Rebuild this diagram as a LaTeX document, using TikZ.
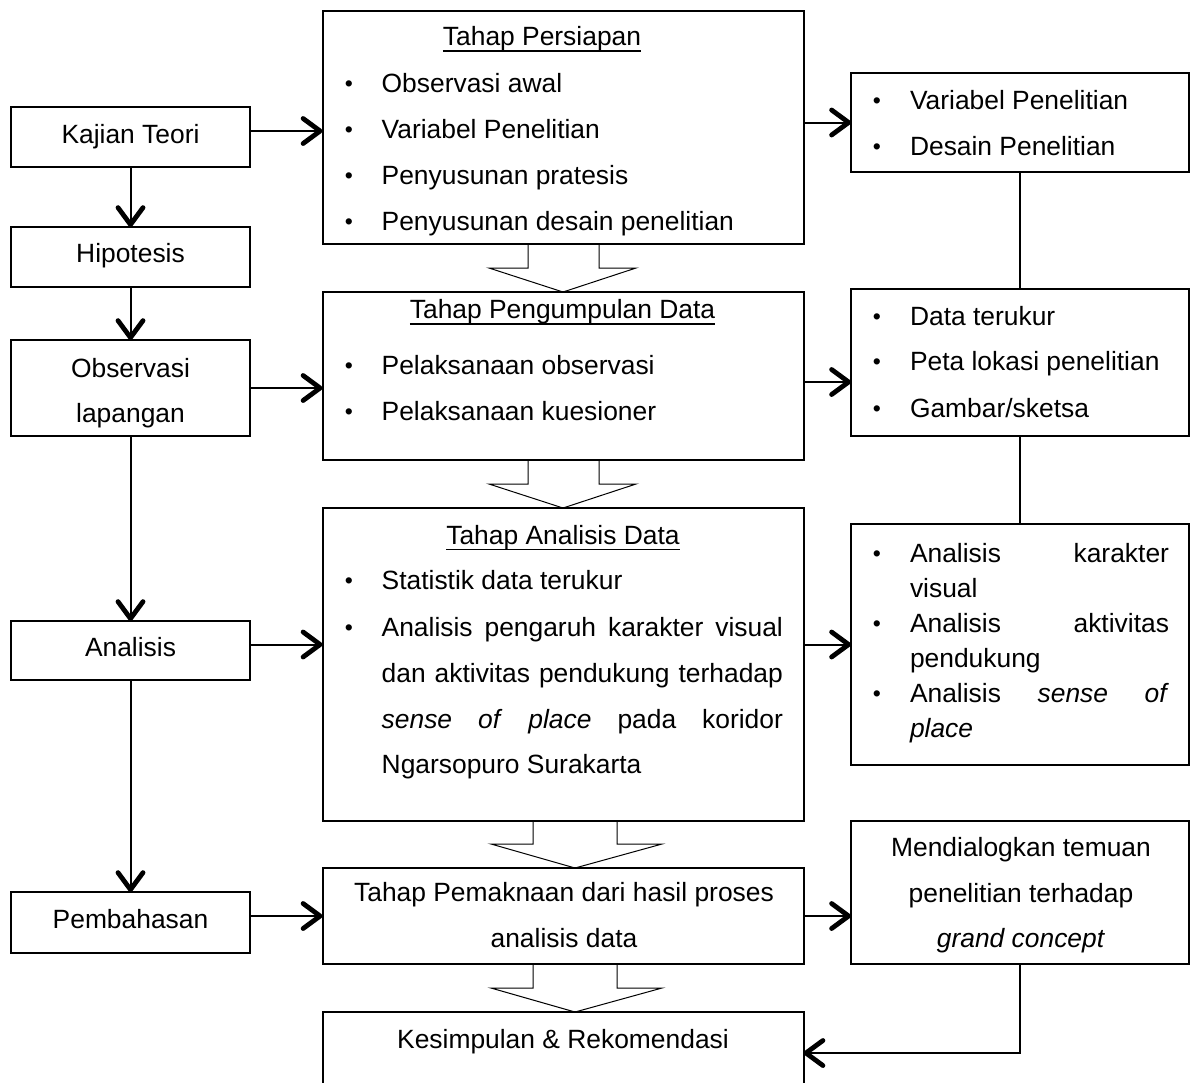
\documentclass[tikz,border=0pt]{standalone}
\usepackage{fontspec}
\setmainfont{Liberation Sans}
\usetikzlibrary{arrows.meta}
\newcommand\smbul{\raisebox{0.3pt}{\fontsize{11.5pt}{11.5pt}\selectfont\textbullet}}
\begin{document}
\begin{tikzpicture}[x=0.5pt,y=-0.5pt,
  box/.style={draw, line width=1pt, rectangle, inner sep=0pt, outer sep=0pt},
  txt/.style={inner sep=0pt, outer sep=0pt, font=\fontsize{13.2pt}{16pt}\selectfont},
  arr/.style={line width=1pt, -{Straight Barb[length=8.5pt,width=12.5pt,line width=2.4pt,round]}},
  conn/.style={line width=1pt},
  blk/.style={line width=0.5pt},
  uline/.style={line width=0.7pt}]
\clip (0,0) rectangle (1192,1082);
% left column
\node[box, minimum width=119.5pt, minimum height=30pt]   (kt) at (130.5,137) {};
\node[box, minimum width=119.5pt, minimum height=30pt]   (l2) at (130.5,257) {};
\node[box, minimum width=119.5pt, minimum height=48pt]   (l3) at (130.5,388) {};
\node[box, minimum width=119.5pt, minimum height=29.5pt] (l4) at (130.5,650.5) {};
\node[box, minimum width=119.5pt, minimum height=30.5pt] (l5) at (130.5,922.5) {};
% middle column
\node[box, minimum width=240.5pt, minimum height=116.5pt] (m1) at (563,127.5) {};
\node[box, minimum width=240.5pt, minimum height=84pt]    (m2) at (563,376) {};
\node[box, minimum width=240.5pt, minimum height=156.5pt] (m3) at (563,664.5) {};
\node[box, minimum width=240.5pt, minimum height=48pt]    (m4) at (563,916) {};
\node[box, minimum width=240.5pt, minimum height=60pt]    (m5) at (563,1072) {};
% right column
\node[box, minimum width=169pt, minimum height=49.5pt]  (r1) at (1020,122.5) {};
\node[box, minimum width=169pt, minimum height=73.5pt]  (r2) at (1020,362.5) {};
\node[box, minimum width=169pt, minimum height=120.5pt] (r3) at (1020,644.5) {};
\node[box, minimum width=169pt, minimum height=71.5pt]  (r4) at (1020,892.5) {};

% left texts
\node[txt, anchor=base] (tkt)  at (130.5,143) {Kajian Teori};
\node[txt, anchor=base] (thip) at (130.5,262) {Hipotesis};
\node[txt, anchor=base] (tob1) at (130.5,377) {Observasi};
\node[txt, anchor=base] (tob2) at (130.5,422) {lapangan};
\node[txt, anchor=base] (tan)  at (130.5,656) {Analisis};
\node[txt, anchor=base] (tpb)  at (130.5,928) {Pembahasan};

% middle texts
\node[txt, anchor=base] (h1) at (542,45) {Tahap Persiapan};
\draw[uline] ([yshift=-2.9pt]h1.base west) -- ([yshift=-2.9pt]h1.base east);
\foreach \yy/\tt [count=\i] in {92/{Observasi awal}, 138/{Variabel Penelitian}, 184/{Penyusunan pratesis}, 230/{Penyusunan desain penelitian}}{
  \node[txt, anchor=base] (m1b\i) at (349,\yy) {\smbul};
  \node[txt, anchor=base west] (m1t\i) at (381.7,\yy) {\tt};
}
\node[txt, anchor=base] (h2) at (562.5,318) {Tahap Pengumpulan Data};
\draw[uline] ([yshift=-3pt]h2.base west) -- ([yshift=-3pt]h2.base east);
\foreach \yy/\tt [count=\i] in {374/{Pelaksanaan observasi}, 420/{Pelaksanaan kuesioner}}{
  \node[txt, anchor=base] (m2b\i) at (349,\yy) {\smbul};
  \node[txt, anchor=base west] (m2t\i) at (381.7,\yy) {\tt};
}
\node[txt, anchor=base] (h3) at (563,544) {Tahap Analisis Data};
\draw[uline] ([yshift=-2.8pt]h3.base west) -- ([yshift=-2.8pt]h3.base east);
\node[txt, anchor=base] (m3b1) at (349,589) {\smbul};
\node[txt, anchor=base west] (m3t1) at (381.7,589) {Statistik data terukur};
\node[txt, anchor=base] (m3b2) at (349,636) {\smbul};
\node[txt, anchor=base west] (m3t2) at (381.7,636) {\makebox[200.6pt][s]{Analisis pengaruh karakter visual}};
\node[txt, anchor=base west] (m3t3) at (381.7,682) {\makebox[200.6pt][s]{dan aktivitas pendukung terhadap}};
\node[txt, anchor=base west] (m3t4) at (381.7,728) {\makebox[200.6pt][s]{\textit{sense} \textit{of} \textit{place} pada koridor}};
\node[txt, anchor=base west] (m3t5) at (381.7,773) {Ngarsopuro Surakarta};
\node[txt, anchor=base] (m4t1) at (564,901) {Tahap Pemaknaan dari hasil proses};
\node[txt, anchor=base] (m4t2) at (564,947) {analisis data};
\node[txt, anchor=base] (m5t1) at (563,1048) {Kesimpulan \& Rekomendasi};

% right texts
\foreach \yy/\tt [count=\i] in {109/{Variabel Penelitian}, 155/{Desain Penelitian}}{
  \node[txt, anchor=base] (r1b\i) at (877,\yy) {\smbul};
  \node[txt, anchor=base west] (r1t\i) at (910,\yy) {\tt};
}
\foreach \yy/\tt [count=\i] in {325/{Data terukur}, 370/{Peta lokasi penelitian}, 417/{Gambar/sketsa}}{
  \node[txt, anchor=base] (r2b\i) at (877,\yy) {\smbul};
  \node[txt, anchor=base west] (r2t\i) at (910,\yy) {\tt};
}
\node[txt, anchor=base] (r3b1) at (877,562) {\smbul};
\node[txt, anchor=base west] (r3t1) at (910,562) {\makebox[129.5pt][s]{Analisis karakter}};
\node[txt, anchor=base west] (r3t2) at (910,597) {visual};
\node[txt, anchor=base] (r3b2) at (877,632) {\smbul};
\node[txt, anchor=base west] (r3t3) at (910,632) {\makebox[129.5pt][s]{Analisis aktivitas}};
\node[txt, anchor=base west] (r3t4) at (910,667) {pendukung};
\node[txt, anchor=base] (r3b3) at (877,702) {\smbul};
\node[txt, anchor=base west] (r3t5) at (910,702) {\makebox[129.5pt][s]{Analisis \textit{sense} \textit{of}}};
\node[txt, anchor=base west] (r3t6) at (910,737) {\textit{place}};
\node[txt, anchor=base] (r4t1) at (1021,856) {Mendialogkan temuan};
\node[txt, anchor=base] (r4t2) at (1021,902) {penelitian terhadap};
\node[txt, anchor=base] (r4t3) at (1021,947) {\textit{grand concept}};

% connectors
\draw[arr] (kt.south) -- (l2.north);
\draw[arr] (l2.south) -- (l3.north);
\draw[arr] (l3.south) -- (l4.north);
\draw[arr] (l4.south) -- (l5.north);
\draw[arr] (kt.east |- 0,131) -- (m1.west |- 0,131);
\draw[arr] (r1.west -| m1.east) -- (r1.west);
\draw[arr] (l3.east) -- (l3.east -| m2.west);
\draw[arr] (m2.east |- 0,382) -- (r2.west |- 0,382);
\draw[arr] (l4.east |- r3.west) -- (m3.west |- r3.west);
\draw[arr] (r3.west -| m3.east) -- (r3.west);
\draw[arr] (l5.east |- m4.west) -- (m4.west);
\draw[arr] (m4.east) -- (m4.east -| r4.west);
\draw[conn] (r1.south) -- (r2.north);
\draw[conn] (r2.south) -- (r3.north);
\coordinate (bend) at (r4.south |- 0,1053);
\draw[arr] (r4.south) -- (bend) -- (bend -| m5.east);

% hollow block arrows
\draw[blk] (528,244) -- (528,268) -- (489,268) -- (563,292) -- (636,268) -- (599,268) -- (599,244);
\draw[blk] (528,460) -- (528,484) -- (489,484) -- (563,508) -- (636,484) -- (599,484) -- (599,460);
\draw[blk] (533,821) -- (533,844) -- (491,844) -- (575,868) -- (662,844) -- (617,844) -- (617,821);
\draw[blk] (533,964) -- (533,988) -- (491,988) -- (575,1012) -- (662,988) -- (617,988) -- (617,964);
\end{tikzpicture}
\end{document}
